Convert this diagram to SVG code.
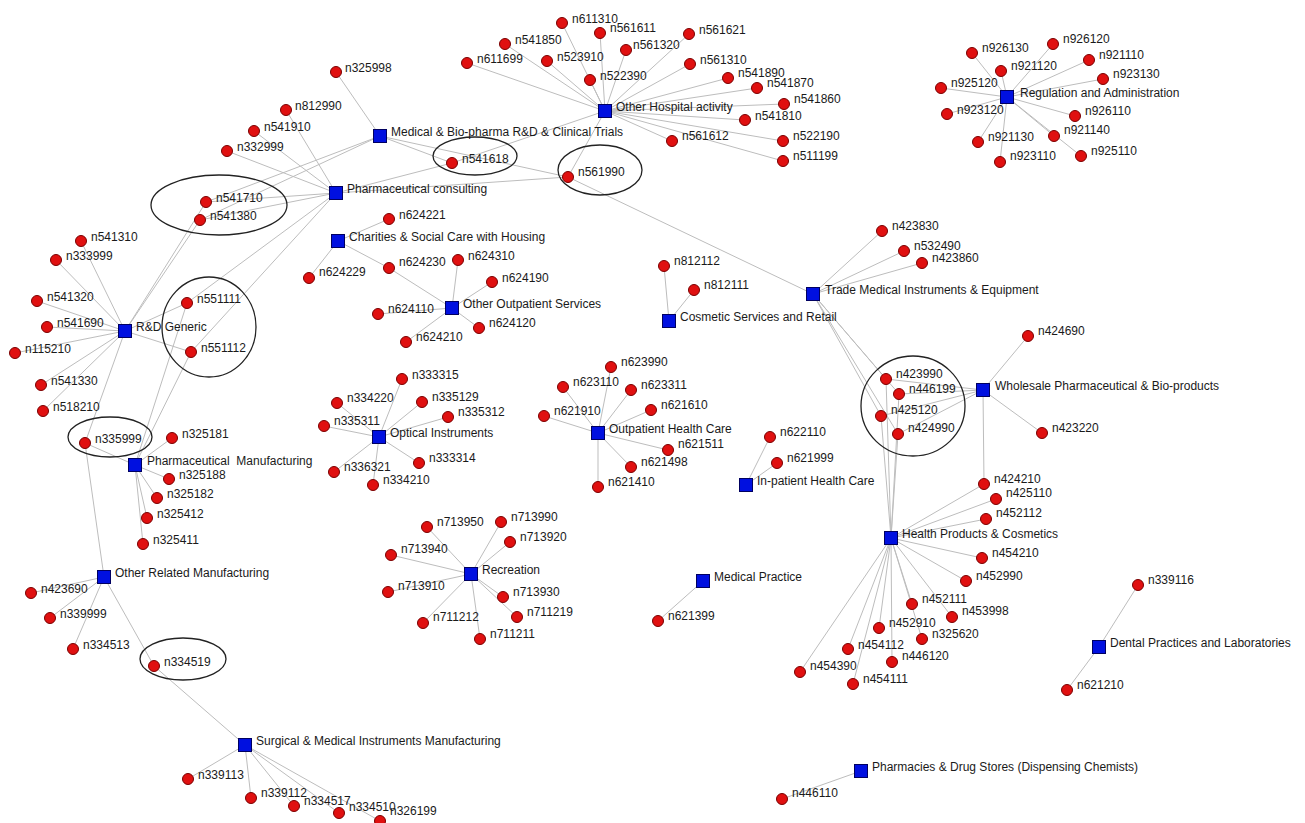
<svg xmlns="http://www.w3.org/2000/svg" width="1305" height="823" viewBox="0 0 1305 823">
<style>
.e{stroke:#bdbdbd;stroke-width:1;fill:none}
.d{fill:#e01010;stroke:#7a0000;stroke-width:1}
.s{fill:#0010e0;stroke:#000060;stroke-width:1}
.t{font-family:"Liberation Sans",Arial,sans-serif;font-size:12px;fill:#1a1a1a}
.h{fill:none;stroke:#222;stroke-width:1.3}
</style>
<rect width="1305" height="823" fill="#fff"/>
<g id="connectors" class="e">
<line x1="380" y1="136" x2="336" y2="72"/><line x1="380" y1="136" x2="452" y2="163"/><line x1="380" y1="136" x2="206" y2="202"/><line x1="380" y1="136" x2="200" y2="220"/><line x1="380" y1="136" x2="568" y2="177"/>
<line x1="336" y1="193" x2="286" y2="110"/><line x1="336" y1="193" x2="254" y2="131"/><line x1="336" y1="193" x2="227" y2="151"/><line x1="336" y1="193" x2="452" y2="163"/><line x1="336" y1="193" x2="568" y2="177"/><line x1="336" y1="193" x2="206" y2="202"/><line x1="336" y1="193" x2="200" y2="220"/><line x1="336" y1="193" x2="187" y2="303"/><line x1="336" y1="193" x2="191" y2="352"/>
<line x1="605" y1="111" x2="467" y2="63"/><line x1="605" y1="111" x2="505" y2="44"/><line x1="605" y1="111" x2="562" y2="23"/><line x1="605" y1="111" x2="547" y2="61"/><line x1="605" y1="111" x2="600" y2="33"/><line x1="605" y1="111" x2="590" y2="80"/><line x1="605" y1="111" x2="626" y2="50"/><line x1="605" y1="111" x2="689" y2="34"/><line x1="605" y1="111" x2="690" y2="64"/><line x1="605" y1="111" x2="728" y2="78"/><line x1="605" y1="111" x2="757" y2="88"/><line x1="605" y1="111" x2="784" y2="104"/><line x1="605" y1="111" x2="745" y2="120"/><line x1="605" y1="111" x2="672" y2="141"/><line x1="605" y1="111" x2="783" y2="141"/><line x1="605" y1="111" x2="783" y2="161"/><line x1="605" y1="111" x2="452" y2="163"/><line x1="605" y1="111" x2="568" y2="177"/>
<line x1="1007" y1="97" x2="972" y2="53"/><line x1="1007" y1="97" x2="1053" y2="44"/><line x1="1007" y1="97" x2="1089" y2="60"/><line x1="1007" y1="97" x2="1001" y2="71"/><line x1="1007" y1="97" x2="1103" y2="79"/><line x1="1007" y1="97" x2="941" y2="88"/><line x1="1007" y1="97" x2="947" y2="114"/><line x1="1007" y1="97" x2="1075" y2="116"/><line x1="1007" y1="97" x2="1054" y2="136"/><line x1="1007" y1="97" x2="978" y2="142"/><line x1="1007" y1="97" x2="1081" y2="156"/><line x1="1007" y1="97" x2="1000" y2="162"/>
<line x1="338" y1="241" x2="389" y2="219"/><line x1="338" y1="241" x2="309" y2="278"/><line x1="338" y1="241" x2="389" y2="268"/>
<line x1="452" y1="308" x2="389" y2="268"/><line x1="452" y1="308" x2="458" y2="260"/><line x1="452" y1="308" x2="492" y2="282"/><line x1="452" y1="308" x2="378" y2="314"/><line x1="452" y1="308" x2="479" y2="328"/><line x1="452" y1="308" x2="406" y2="342"/>
<line x1="125" y1="331" x2="81" y2="241"/><line x1="125" y1="331" x2="56" y2="260"/><line x1="125" y1="331" x2="37" y2="301"/><line x1="125" y1="331" x2="47" y2="327"/><line x1="125" y1="331" x2="15" y2="353"/><line x1="125" y1="331" x2="41" y2="385"/><line x1="125" y1="331" x2="43" y2="411"/><line x1="125" y1="331" x2="85" y2="443"/><line x1="125" y1="331" x2="187" y2="303"/><line x1="125" y1="331" x2="191" y2="352"/><line x1="125" y1="331" x2="206" y2="202"/><line x1="125" y1="331" x2="200" y2="220"/>
<line x1="135" y1="465" x2="172" y2="438"/><line x1="135" y1="465" x2="169" y2="479"/><line x1="135" y1="465" x2="157" y2="498"/><line x1="135" y1="465" x2="147" y2="518"/><line x1="135" y1="465" x2="143" y2="544"/><line x1="135" y1="465" x2="85" y2="443"/><line x1="135" y1="465" x2="187" y2="303"/><line x1="135" y1="465" x2="191" y2="352"/>
<line x1="379" y1="437" x2="402" y2="379"/><line x1="379" y1="437" x2="337" y2="403"/><line x1="379" y1="437" x2="422" y2="402"/><line x1="379" y1="437" x2="448" y2="417"/><line x1="379" y1="437" x2="324" y2="426"/><line x1="379" y1="437" x2="419" y2="463"/><line x1="379" y1="437" x2="334" y2="472"/><line x1="379" y1="437" x2="373" y2="485"/>
<line x1="598" y1="433" x2="611" y2="367"/><line x1="598" y1="433" x2="563" y2="387"/><line x1="598" y1="433" x2="631" y2="390"/><line x1="598" y1="433" x2="651" y2="410"/><line x1="598" y1="433" x2="544" y2="416"/><line x1="598" y1="433" x2="668" y2="450"/><line x1="598" y1="433" x2="631" y2="467"/><line x1="598" y1="433" x2="598" y2="487"/>
<line x1="669" y1="321" x2="664" y2="266"/><line x1="669" y1="321" x2="694" y2="290"/>
<line x1="813" y1="294" x2="882" y2="231"/><line x1="813" y1="294" x2="904" y2="251"/><line x1="813" y1="294" x2="922" y2="263"/><line x1="813" y1="294" x2="568" y2="177"/><line x1="813" y1="294" x2="886" y2="379"/><line x1="813" y1="294" x2="899" y2="394"/><line x1="813" y1="294" x2="881" y2="416"/><line x1="813" y1="294" x2="898" y2="434"/>
<line x1="983" y1="390" x2="1028" y2="336"/><line x1="983" y1="390" x2="1042" y2="433"/><line x1="983" y1="390" x2="886" y2="379"/><line x1="983" y1="390" x2="899" y2="394"/><line x1="983" y1="390" x2="881" y2="416"/><line x1="983" y1="390" x2="898" y2="434"/><line x1="983" y1="390" x2="984" y2="484"/>
<line x1="891" y1="538" x2="886" y2="379"/><line x1="891" y1="538" x2="899" y2="394"/><line x1="891" y1="538" x2="881" y2="416"/><line x1="891" y1="538" x2="898" y2="434"/><line x1="891" y1="538" x2="984" y2="484"/><line x1="891" y1="538" x2="996" y2="499"/><line x1="891" y1="538" x2="986" y2="519"/><line x1="891" y1="538" x2="982" y2="558"/><line x1="891" y1="538" x2="966" y2="581"/><line x1="891" y1="538" x2="912" y2="604"/><line x1="891" y1="538" x2="952" y2="617"/><line x1="891" y1="538" x2="879" y2="628"/><line x1="891" y1="538" x2="922" y2="639"/><line x1="891" y1="538" x2="848" y2="649"/><line x1="891" y1="538" x2="892" y2="662"/><line x1="891" y1="538" x2="800" y2="672"/><line x1="891" y1="538" x2="853" y2="684"/>
<line x1="746" y1="485" x2="770" y2="437"/><line x1="746" y1="485" x2="777" y2="463"/>
<line x1="703" y1="581" x2="658" y2="621"/>
<line x1="1099" y1="647" x2="1138" y2="585"/><line x1="1099" y1="647" x2="1067" y2="690"/>
<line x1="861" y1="771" x2="782" y2="799"/>
<line x1="471" y1="574" x2="427" y2="527"/><line x1="471" y1="574" x2="501" y2="522"/><line x1="471" y1="574" x2="510" y2="542"/><line x1="471" y1="574" x2="391" y2="555"/><line x1="471" y1="574" x2="388" y2="592"/><line x1="471" y1="574" x2="503" y2="597"/><line x1="471" y1="574" x2="517" y2="617"/><line x1="471" y1="574" x2="423" y2="623"/><line x1="471" y1="574" x2="480" y2="639"/>
<line x1="104" y1="577" x2="31" y2="593"/><line x1="104" y1="577" x2="50" y2="618"/><line x1="104" y1="577" x2="73" y2="649"/><line x1="104" y1="577" x2="154" y2="666"/><line x1="104" y1="577" x2="85" y2="443"/>
<line x1="245" y1="745" x2="154" y2="666"/><line x1="245" y1="745" x2="188" y2="779"/><line x1="245" y1="745" x2="251" y2="798"/><line x1="245" y1="745" x2="294" y2="806"/><line x1="245" y1="745" x2="339" y2="813"/><line x1="245" y1="745" x2="380" y2="821"/>
</g>
<g id="highlights">
<ellipse class="h" cx="219" cy="205" rx="68" ry="30"/>
<ellipse class="h" cx="209" cy="327" rx="47" ry="50"/>
<ellipse class="h" cx="110" cy="437" rx="42" ry="20"/>
<ellipse class="h" cx="183" cy="659" rx="43" ry="21"/>
<ellipse class="h" cx="475" cy="156" rx="42" ry="19"/>
<ellipse class="h" cx="600" cy="170" rx="42" ry="25"/>
<ellipse class="h" cx="913" cy="406" rx="52" ry="50"/>
</g>
<g id="categories">
<g id="c-mb"><rect class="s" x="373.5" y="129.5" width="13" height="13"/><text class="t" x="391" y="136">Medical &amp; Bio-pharma R&amp;D &amp; Clinical Trials</text></g>
<g id="c-pc"><rect class="s" x="329.5" y="186.5" width="13" height="13"/><text class="t" x="347" y="193">Pharmaceutical consulting</text></g>
<g id="c-oh"><rect class="s" x="598.5" y="104.5" width="13" height="13"/><text class="t" x="616" y="111">Other Hospital activity</text></g>
<g id="c-ra"><rect class="s" x="1000.5" y="90.5" width="13" height="13"/><text class="t" x="1020" y="97">Regulation and Administration</text></g>
<g id="c-ch"><rect class="s" x="331.5" y="234.5" width="13" height="13"/><text class="t" x="349" y="241">Charities &amp; Social Care with Housing</text></g>
<g id="c-oos"><rect class="s" x="445.5" y="301.5" width="13" height="13"/><text class="t" x="463" y="308">Other Outpatient Services</text></g>
<g id="c-rd"><rect class="s" x="118.5" y="324.5" width="13" height="13"/><text class="t" x="136" y="331">R&amp;D Generic</text></g>
<g id="c-pm"><rect class="s" x="128.5" y="458.5" width="13" height="13"/><text class="t" x="147" y="465">Pharmaceutical&#160; Manufacturing</text></g>
<g id="c-oi"><rect class="s" x="372.5" y="430.5" width="13" height="13"/><text class="t" x="390" y="437">Optical Instruments</text></g>
<g id="c-oph"><rect class="s" x="591.5" y="426.5" width="13" height="13"/><text class="t" x="609" y="433">Outpatient Health Care</text></g>
<g id="c-csr"><rect class="s" x="662.5" y="314.5" width="13" height="13"/><text class="t" x="680" y="321">Cosmetic Services and Retail</text></g>
<g id="c-tmi"><rect class="s" x="806.5" y="287.5" width="13" height="13"/><text class="t" x="825" y="294">Trade Medical Instruments &amp; Equipment</text></g>
<g id="c-wp"><rect class="s" x="976.5" y="383.5" width="13" height="13"/><text class="t" x="995" y="390">Wholesale Pharmaceutical &amp; Bio-products</text></g>
<g id="c-iph"><rect class="s" x="739.5" y="478.5" width="13" height="13"/><text class="t" x="757" y="485">In-patient Health Care</text></g>
<g id="c-hpc"><rect class="s" x="884.5" y="531.5" width="13" height="13"/><text class="t" x="902" y="538">Health Products &amp; Cosmetics</text></g>
<g id="c-orm"><rect class="s" x="97.5" y="570.5" width="13" height="13"/><text class="t" x="115" y="577">Other Related Manufacturing</text></g>
<g id="c-rec"><rect class="s" x="464.5" y="567.5" width="13" height="13"/><text class="t" x="482" y="574">Recreation</text></g>
<g id="c-mp"><rect class="s" x="696.5" y="574.5" width="13" height="13"/><text class="t" x="714" y="581">Medical Practice</text></g>
<g id="c-dpl"><rect class="s" x="1092.5" y="640.5" width="13" height="13"/><text class="t" x="1110" y="647">Dental Practices and Laboratories</text></g>
<g id="c-smi"><rect class="s" x="238.5" y="738.5" width="13" height="13"/><text class="t" x="256" y="745">Surgical &amp; Medical Instruments Manufacturing</text></g>
<g id="c-pds"><rect class="s" x="854.5" y="764.5" width="13" height="13"/><text class="t" x="872" y="771">Pharmacies &amp; Drug Stores (Dispensing Chemists)</text></g>
</g>
<g id="industries">
<g id="n325998"><circle class="d" cx="336" cy="72" r="5.5"/><text class="t" x="345" y="72">n325998</text></g>
<g id="n812990"><circle class="d" cx="286" cy="110" r="5.5"/><text class="t" x="295" y="110">n812990</text></g>
<g id="n541910"><circle class="d" cx="254" cy="131" r="5.5"/><text class="t" x="264" y="131">n541910</text></g>
<g id="n332999"><circle class="d" cx="227" cy="151" r="5.5"/><text class="t" x="237" y="151">n332999</text></g>
<g id="n541710"><circle class="d" cx="206" cy="202" r="5.5"/><text class="t" x="216" y="202">n541710</text></g>
<g id="n541380"><circle class="d" cx="200" cy="220" r="5.5"/><text class="t" x="210" y="220">n541380</text></g>
<g id="n541310"><circle class="d" cx="81" cy="241" r="5.5"/><text class="t" x="91" y="241">n541310</text></g>
<g id="n333999"><circle class="d" cx="56" cy="260" r="5.5"/><text class="t" x="66" y="260">n333999</text></g>
<g id="n541320"><circle class="d" cx="37" cy="301" r="5.5"/><text class="t" x="47" y="301">n541320</text></g>
<g id="n541690"><circle class="d" cx="47" cy="327" r="5.5"/><text class="t" x="57" y="327">n541690</text></g>
<g id="n115210"><circle class="d" cx="15" cy="353" r="5.5"/><text class="t" x="25" y="353">n115210</text></g>
<g id="n551111"><circle class="d" cx="187" cy="303" r="5.5"/><text class="t" x="197" y="303">n551111</text></g>
<g id="n551112"><circle class="d" cx="191" cy="352" r="5.5"/><text class="t" x="201" y="352">n551112</text></g>
<g id="n541330"><circle class="d" cx="41" cy="385" r="5.5"/><text class="t" x="51" y="385">n541330</text></g>
<g id="n518210"><circle class="d" cx="43" cy="411" r="5.5"/><text class="t" x="53" y="411">n518210</text></g>
<g id="n335999"><circle class="d" cx="85" cy="443" r="5.5"/><text class="t" x="95" y="443">n335999</text></g>
<g id="n325181"><circle class="d" cx="172" cy="438" r="5.5"/><text class="t" x="182" y="438">n325181</text></g>
<g id="n325188"><circle class="d" cx="169" cy="479" r="5.5"/><text class="t" x="179" y="479">n325188</text></g>
<g id="n325182"><circle class="d" cx="157" cy="498" r="5.5"/><text class="t" x="167" y="498">n325182</text></g>
<g id="n325412"><circle class="d" cx="147" cy="518" r="5.5"/><text class="t" x="157" y="518">n325412</text></g>
<g id="n325411"><circle class="d" cx="143" cy="544" r="5.5"/><text class="t" x="153" y="544">n325411</text></g>
<g id="n423690"><circle class="d" cx="31" cy="593" r="5.5"/><text class="t" x="41" y="593">n423690</text></g>
<g id="n339999"><circle class="d" cx="50" cy="618" r="5.5"/><text class="t" x="60" y="618">n339999</text></g>
<g id="n334513"><circle class="d" cx="73" cy="649" r="5.5"/><text class="t" x="83" y="649">n334513</text></g>
<g id="n334519"><circle class="d" cx="154" cy="666" r="5.5"/><text class="t" x="164" y="666">n334519</text></g>
<g id="n339113"><circle class="d" cx="188" cy="779" r="5.5"/><text class="t" x="198" y="779">n339113</text></g>
<g id="n339112"><circle class="d" cx="251" cy="798" r="5.5"/><text class="t" x="261" y="797">n339112</text></g>
<g id="n334517"><circle class="d" cx="294" cy="806" r="5.5"/><text class="t" x="304" y="805">n334517</text></g>
<g id="n326199"><text class="t" x="390" y="815">n326199</text><circle class="d" cx="380" cy="821" r="5.5"/></g>
<g id="n334510"><circle class="d" cx="339" cy="813" r="5.5"/><text class="t" x="349" y="811">n334510</text></g>
<g id="n611699"><circle class="d" cx="467" cy="63" r="5.5"/><text class="t" x="477" y="63">n611699</text></g>
<g id="n541850"><circle class="d" cx="505" cy="44" r="5.5"/><text class="t" x="515" y="44">n541850</text></g>
<g id="n611310"><circle class="d" cx="562" cy="23" r="5.5"/><text class="t" x="572" y="23">n611310</text></g>
<g id="n523910"><circle class="d" cx="547" cy="61" r="5.5"/><text class="t" x="557" y="61">n523910</text></g>
<g id="n561611"><circle class="d" cx="600" cy="33" r="5.5"/><text class="t" x="610" y="32">n561611</text></g>
<g id="n522390"><circle class="d" cx="590" cy="80" r="5.5"/><text class="t" x="600" y="80">n522390</text></g>
<g id="n561320"><circle class="d" cx="626" cy="50" r="5.5"/><text class="t" x="633" y="49">n561320</text></g>
<g id="n561621"><circle class="d" cx="689" cy="34" r="5.5"/><text class="t" x="699" y="34">n561621</text></g>
<g id="n561310"><circle class="d" cx="690" cy="64" r="5.5"/><text class="t" x="700" y="64">n561310</text></g>
<g id="n541890"><circle class="d" cx="728" cy="78" r="5.5"/><text class="t" x="738" y="77">n541890</text></g>
<g id="n541870"><circle class="d" cx="757" cy="88" r="5.5"/><text class="t" x="767" y="87">n541870</text></g>
<g id="n541860"><circle class="d" cx="784" cy="104" r="5.5"/><text class="t" x="794" y="103">n541860</text></g>
<g id="n541810"><circle class="d" cx="745" cy="120" r="5.5"/><text class="t" x="755" y="120">n541810</text></g>
<g id="n561612"><circle class="d" cx="672" cy="141" r="5.5"/><text class="t" x="682" y="140">n561612</text></g>
<g id="n522190"><circle class="d" cx="783" cy="141" r="5.5"/><text class="t" x="793" y="140">n522190</text></g>
<g id="n511199"><circle class="d" cx="783" cy="161" r="5.5"/><text class="t" x="793" y="160">n511199</text></g>
<g id="n541618"><circle class="d" cx="452" cy="163" r="5.5"/><text class="t" x="462" y="163">n541618</text></g>
<g id="n561990"><circle class="d" cx="568" cy="177" r="5.5"/><text class="t" x="578" y="176">n561990</text></g>
<g id="n926130"><circle class="d" cx="972" cy="53" r="5.5"/><text class="t" x="982" y="52">n926130</text></g>
<g id="n926120"><circle class="d" cx="1053" cy="44" r="5.5"/><text class="t" x="1063" y="43">n926120</text></g>
<g id="n921110"><circle class="d" cx="1089" cy="60" r="5.5"/><text class="t" x="1099" y="59">n921110</text></g>
<g id="n921120"><circle class="d" cx="1001" cy="71" r="5.5"/><text class="t" x="1011" y="70">n921120</text></g>
<g id="n923130"><circle class="d" cx="1103" cy="79" r="5.5"/><text class="t" x="1113" y="78">n923130</text></g>
<g id="n925120"><circle class="d" cx="941" cy="88" r="5.5"/><text class="t" x="951" y="87">n925120</text></g>
<g id="n923120"><circle class="d" cx="947" cy="114" r="5.5"/><text class="t" x="957" y="114">n923120</text></g>
<g id="n926110"><circle class="d" cx="1075" cy="116" r="5.5"/><text class="t" x="1085" y="115">n926110</text></g>
<g id="n921140"><circle class="d" cx="1054" cy="136" r="5.5"/><text class="t" x="1064" y="134">n921140</text></g>
<g id="n921130"><circle class="d" cx="978" cy="142" r="5.5"/><text class="t" x="988" y="141">n921130</text></g>
<g id="n925110"><circle class="d" cx="1081" cy="156" r="5.5"/><text class="t" x="1091" y="155">n925110</text></g>
<g id="n923110"><circle class="d" cx="1000" cy="162" r="5.5"/><text class="t" x="1010" y="160">n923110</text></g>
<g id="n624221"><circle class="d" cx="389" cy="219" r="5.5"/><text class="t" x="399" y="219">n624221</text></g>
<g id="n624229"><circle class="d" cx="309" cy="278" r="5.5"/><text class="t" x="319" y="276">n624229</text></g>
<g id="n624230"><circle class="d" cx="389" cy="268" r="5.5"/><text class="t" x="399" y="266">n624230</text></g>
<g id="n624310"><circle class="d" cx="458" cy="260" r="5.5"/><text class="t" x="468" y="260">n624310</text></g>
<g id="n624190"><circle class="d" cx="492" cy="282" r="5.5"/><text class="t" x="502" y="282">n624190</text></g>
<g id="n624110"><circle class="d" cx="378" cy="314" r="5.5"/><text class="t" x="388" y="313">n624110</text></g>
<g id="n624120"><circle class="d" cx="479" cy="328" r="5.5"/><text class="t" x="489" y="327">n624120</text></g>
<g id="n624210"><circle class="d" cx="406" cy="342" r="5.5"/><text class="t" x="416" y="341">n624210</text></g>
<g id="n333315"><circle class="d" cx="402" cy="379" r="5.5"/><text class="t" x="412" y="379">n333315</text></g>
<g id="n334220"><circle class="d" cx="337" cy="403" r="5.5"/><text class="t" x="347" y="402">n334220</text></g>
<g id="n335129"><circle class="d" cx="422" cy="402" r="5.5"/><text class="t" x="432" y="401">n335129</text></g>
<g id="n335312"><circle class="d" cx="448" cy="417" r="5.5"/><text class="t" x="458" y="416">n335312</text></g>
<g id="n335311"><circle class="d" cx="324" cy="426" r="5.5"/><text class="t" x="334" y="425">n335311</text></g>
<g id="n333314"><circle class="d" cx="419" cy="463" r="5.5"/><text class="t" x="429" y="462">n333314</text></g>
<g id="n336321"><circle class="d" cx="334" cy="472" r="5.5"/><text class="t" x="344" y="471">n336321</text></g>
<g id="n334210"><circle class="d" cx="373" cy="485" r="5.5"/><text class="t" x="383" y="484">n334210</text></g>
<g id="n623990"><circle class="d" cx="611" cy="367" r="5.5"/><text class="t" x="621" y="366">n623990</text></g>
<g id="n623110"><circle class="d" cx="563" cy="387" r="5.5"/><text class="t" x="573" y="386">n623110</text></g>
<g id="n623311"><circle class="d" cx="631" cy="390" r="5.5"/><text class="t" x="641" y="389">n623311</text></g>
<g id="n621610"><circle class="d" cx="651" cy="410" r="5.5"/><text class="t" x="661" y="409">n621610</text></g>
<g id="n621910"><circle class="d" cx="544" cy="416" r="5.5"/><text class="t" x="554" y="415">n621910</text></g>
<g id="n621511"><circle class="d" cx="668" cy="450" r="5.5"/><text class="t" x="678" y="448">n621511</text></g>
<g id="n621498"><circle class="d" cx="631" cy="467" r="5.5"/><text class="t" x="641" y="466">n621498</text></g>
<g id="n621410"><circle class="d" cx="598" cy="487" r="5.5"/><text class="t" x="608" y="486">n621410</text></g>
<g id="n812112"><circle class="d" cx="664" cy="266" r="5.5"/><text class="t" x="674" y="265">n812112</text></g>
<g id="n812111"><circle class="d" cx="694" cy="290" r="5.5"/><text class="t" x="704" y="289">n812111</text></g>
<g id="n423830"><circle class="d" cx="882" cy="231" r="5.5"/><text class="t" x="892" y="230">n423830</text></g>
<g id="n532490"><circle class="d" cx="904" cy="251" r="5.5"/><text class="t" x="914" y="250">n532490</text></g>
<g id="n423860"><circle class="d" cx="922" cy="263" r="5.5"/><text class="t" x="932" y="262">n423860</text></g>
<g id="n423990"><circle class="d" cx="886" cy="379" r="5.5"/><text class="t" x="896" y="378">n423990</text></g>
<g id="n446199"><circle class="d" cx="899" cy="394" r="5.5"/><text class="t" x="909" y="393">n446199</text></g>
<g id="n425120"><circle class="d" cx="881" cy="416" r="5.5"/><text class="t" x="891" y="414">n425120</text></g>
<g id="n424990"><circle class="d" cx="898" cy="434" r="5.5"/><text class="t" x="908" y="432">n424990</text></g>
<g id="n424690"><circle class="d" cx="1028" cy="336" r="5.5"/><text class="t" x="1038" y="335">n424690</text></g>
<g id="n423220"><circle class="d" cx="1042" cy="433" r="5.5"/><text class="t" x="1052" y="432">n423220</text></g>
<g id="n424210"><circle class="d" cx="984" cy="484" r="5.5"/><text class="t" x="994" y="483">n424210</text></g>
<g id="n425110"><circle class="d" cx="996" cy="499" r="5.5"/><text class="t" x="1006" y="497">n425110</text></g>
<g id="n452112"><circle class="d" cx="986" cy="519" r="5.5"/><text class="t" x="996" y="517">n452112</text></g>
<g id="n454210"><circle class="d" cx="982" cy="558" r="5.5"/><text class="t" x="992" y="557">n454210</text></g>
<g id="n452990"><circle class="d" cx="966" cy="581" r="5.5"/><text class="t" x="976" y="580">n452990</text></g>
<g id="n452111"><circle class="d" cx="912" cy="604" r="5.5"/><text class="t" x="922" y="603">n452111</text></g>
<g id="n453998"><circle class="d" cx="952" cy="617" r="5.5"/><text class="t" x="962" y="615">n453998</text></g>
<g id="n452910"><circle class="d" cx="879" cy="628" r="5.5"/><text class="t" x="889" y="627">n452910</text></g>
<g id="n325620"><circle class="d" cx="922" cy="639" r="5.5"/><text class="t" x="932" y="638">n325620</text></g>
<g id="n454112"><circle class="d" cx="848" cy="649" r="5.5"/><text class="t" x="858" y="649">n454112</text></g>
<g id="n446120"><circle class="d" cx="892" cy="662" r="5.5"/><text class="t" x="902" y="660">n446120</text></g>
<g id="n454390"><circle class="d" cx="800" cy="672" r="5.5"/><text class="t" x="810" y="670">n454390</text></g>
<g id="n454111"><circle class="d" cx="853" cy="684" r="5.5"/><text class="t" x="863" y="683">n454111</text></g>
<g id="n622110"><circle class="d" cx="770" cy="437" r="5.5"/><text class="t" x="780" y="436">n622110</text></g>
<g id="n621999"><circle class="d" cx="777" cy="463" r="5.5"/><text class="t" x="787" y="462">n621999</text></g>
<g id="n621399"><circle class="d" cx="658" cy="621" r="5.5"/><text class="t" x="668" y="620">n621399</text></g>
<g id="n339116"><circle class="d" cx="1138" cy="585" r="5.5"/><text class="t" x="1148" y="584">n339116</text></g>
<g id="n621210"><circle class="d" cx="1067" cy="690" r="5.5"/><text class="t" x="1077" y="689">n621210</text></g>
<g id="n446110"><circle class="d" cx="782" cy="799" r="5.5"/><text class="t" x="792" y="797">n446110</text></g>
<g id="n713950"><circle class="d" cx="427" cy="527" r="5.5"/><text class="t" x="437" y="526">n713950</text></g>
<g id="n713990"><circle class="d" cx="501" cy="522" r="5.5"/><text class="t" x="511" y="521">n713990</text></g>
<g id="n713920"><circle class="d" cx="510" cy="542" r="5.5"/><text class="t" x="520" y="541">n713920</text></g>
<g id="n713940"><circle class="d" cx="391" cy="555" r="5.5"/><text class="t" x="401" y="553">n713940</text></g>
<g id="n713910"><circle class="d" cx="388" cy="592" r="5.5"/><text class="t" x="398" y="590">n713910</text></g>
<g id="n713930"><circle class="d" cx="503" cy="597" r="5.5"/><text class="t" x="513" y="596">n713930</text></g>
<g id="n711219"><circle class="d" cx="517" cy="617" r="5.5"/><text class="t" x="527" y="616">n711219</text></g>
<g id="n711212"><circle class="d" cx="423" cy="623" r="5.5"/><text class="t" x="433" y="621">n711212</text></g>
<g id="n711211"><circle class="d" cx="480" cy="639" r="5.5"/><text class="t" x="490" y="638">n711211</text></g>
</g>
</svg>
